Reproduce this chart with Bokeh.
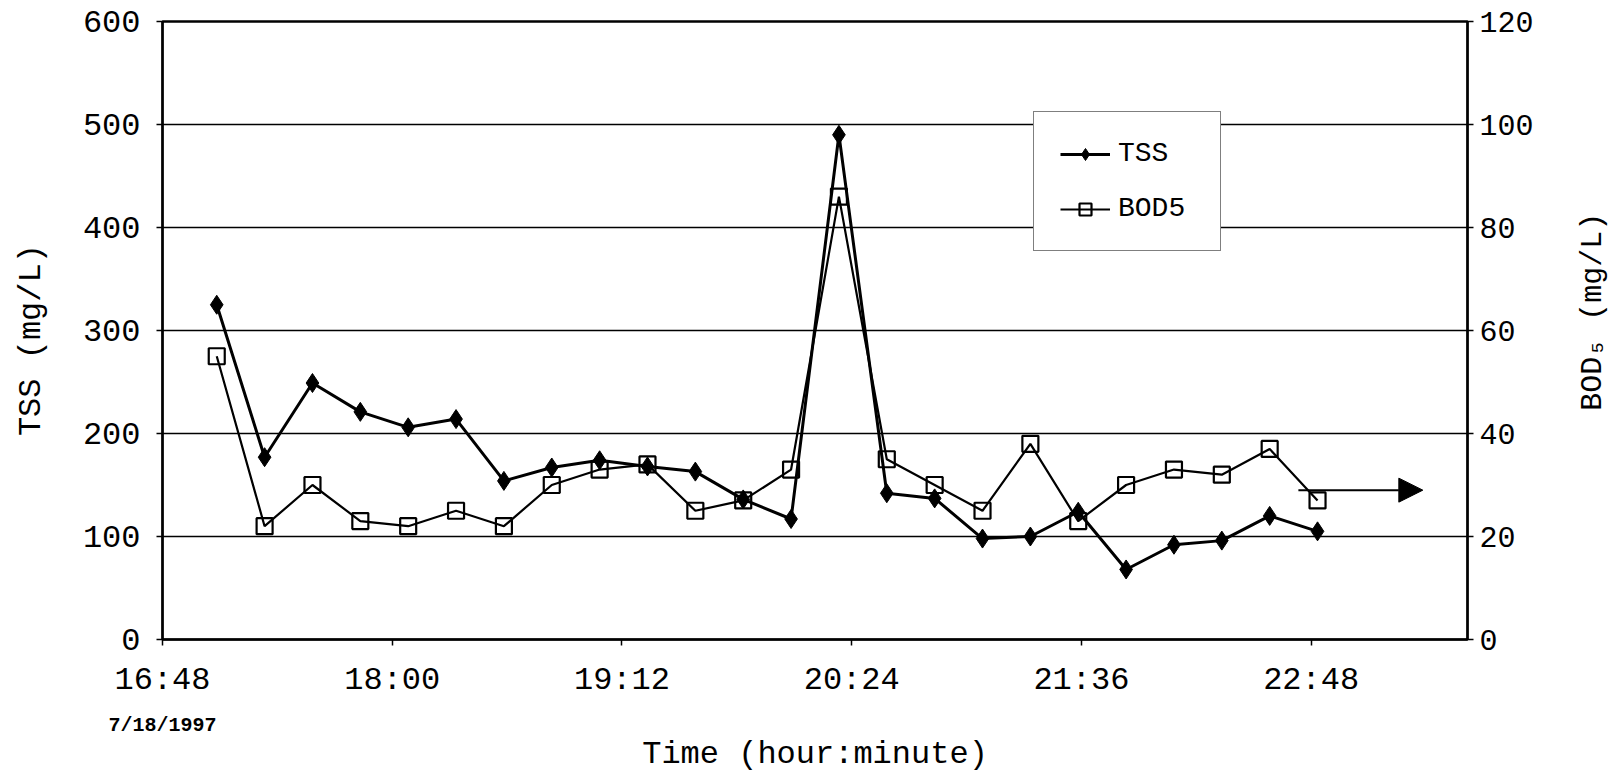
import math
from bokeh.plotting import figure
from bokeh.layouts import row
from bokeh.models import (Range1d, LinearAxis, FixedTicker, Legend, LegendItem,
                          Arrow, NormalHead)
from bokeh.core.properties import value
from bokeh.embed import file_html
from bokeh.resources import INLINE

# ---------------- data ----------------
times = ["17:05", "17:20", "17:35", "17:50", "18:05", "18:20", "18:35", "18:50",
         "19:05", "19:20", "19:35", "19:50", "20:05", "20:20", "20:35", "20:50",
         "21:05", "21:20", "21:35", "21:50", "22:05", "22:20", "22:35", "22:50"]
tss = [325, 177, 249, 221, 206, 214, 154, 167, 174, 168, 163, 136,
       117, 490, 142, 137, 98, 100, 124, 68, 92, 96, 120, 105]
bod5 = [55, 22, 30, 23, 22, 25, 22, 30, 33, 34, 25, 27,
        33, 86, 35, 30, 25, 38, 23, 30, 33, 32, 37, 27]
tick_labels = ["16:48", "18:00", "19:12", "20:24", "21:36", "22:48"]
x_start, x_end = "16:48", "23:37"
arrow_times = ["22:44", "23:23"]
arrow_bod = 29
date_text = "7/18/1997"
right_title = "BOD\u2085  (mg/L)"


def to_min(s):
    h, m = s.split(":")
    return int(h) * 60 + int(m)


x = [to_min(t) for t in times]
ticks = [to_min(t) for t in tick_labels]

FONT = "Liberation Mono"
TITLE_W = 60

p = figure(width=1613 - TITLE_W, height=775, output_backend="svg", toolbar_location=None,
           x_range=Range1d(to_min(x_start), to_min(x_end)),
           y_range=Range1d(0, 600),
           min_border_left=162, min_border_right=146 - TITLE_W,
           min_border_top=21, min_border_bottom=135,
           background_fill_color="white", border_fill_color="white")
p.extra_y_ranges = {"bod": Range1d(0, 120)}

# grid / outline
p.xgrid.grid_line_color = None
p.ygrid.grid_line_color = "black"
p.ygrid.grid_line_width = 1.4
p.ygrid.ticker = FixedTicker(ticks=[0, 100, 200, 300, 400, 500, 600])
p.outline_line_color = "black"
p.outline_line_width = 2.5

# x axis (time ticks)
xa = p.xaxis[0]
xa.ticker = FixedTicker(ticks=ticks)
xa.major_label_overrides = {t: lab for t, lab in zip(ticks, tick_labels)}

# left axis
ya = p.yaxis[0]
ya.ticker = FixedTicker(ticks=[0, 100, 200, 300, 400, 500, 600])
ya.axis_label = "TSS  (mg/L)"

# right axis
ra = LinearAxis(y_range_name="bod", ticker=FixedTicker(ticks=[0, 20, 40, 60, 80, 100, 120]))
p.add_layout(ra, "right")

for ax in (xa, ya, ra):
    ax.axis_line_color = "black"
    ax.axis_line_width = 2
    ax.major_tick_line_color = "black"
    ax.major_tick_line_width = 1.5
    ax.major_tick_in = 0
    ax.major_tick_out = 6
    ax.minor_tick_line_color = None
    ax.major_label_text_font = FONT
    ax.major_label_text_font_size = "32px"
    ax.major_label_text_color = "black"
    ax.axis_label_text_font = FONT
    ax.axis_label_text_font_size = "32px"
    ax.axis_label_text_font_style = "normal"
    ax.axis_label_text_color = "black"

xa.major_label_standoff = 16
ya.major_label_standoff = 16
ya.axis_label_standoff = 30
ra.major_label_text_font_size = "30px"
ra.major_label_standoff = 6

# second bottom axis carrying the date and the axis title
da = LinearAxis(ticker=FixedTicker(ticks=[to_min(x_start)]),
                major_label_overrides={to_min(x_start): date_text},
                axis_label="Time (hour:minute)")
da.axis_line_color = None
da.major_tick_line_color = None
da.minor_tick_line_color = None
da.major_tick_out = 0
da.major_tick_in = 0
da.major_label_standoff = 12
da.major_label_text_font = FONT
da.major_label_text_font_size = "20px"
da.major_label_text_font_style = "bold"
da.major_label_text_color = "black"
da.axis_label_standoff = -4
da.axis_label_text_font = FONT
da.axis_label_text_font_size = "32px"
da.axis_label_text_font_style = "normal"
da.axis_label_text_color = "black"
p.add_layout(da, "below")

# series
tss_line = p.line(x, tss, line_color="black", line_width=3)
tss_pts = p.scatter(x, tss, marker="diamond", size=19, fill_color="black",
                    line_color="black")
bod_line = p.line(x, bod5, line_color="black", line_width=2.2, y_range_name="bod")
bod_pts = p.scatter(x, bod5, marker="square", size=16, fill_alpha=0,
                    line_color="black", line_width=2.2, y_range_name="bod")

# arrow
p.add_layout(Arrow(x_start=to_min(arrow_times[0]), y_start=arrow_bod,
                   x_end=to_min(arrow_times[1]), y_end=arrow_bod,
                   y_range_name="bod", line_color="black", line_width=2,
                   end=NormalHead(size=24, fill_color="black", line_color="black")))

# legend
legend = Legend(items=[LegendItem(label="TSS", renderers=[tss_line, tss_pts]),
                       LegendItem(label="BOD5", renderers=[bod_line, bod_pts])],
                location=(871, 388))
legend.border_line_color = "black"
legend.border_line_width = 1.5
legend.background_fill_color = "white"
legend.background_fill_alpha = 1
legend.label_text_font = FONT
legend.label_text_font_size = "28px"
legend.label_text_color = "black"
legend.glyph_width = 50
legend.glyph_height = 30
legend.label_height = 30
legend.label_width = 76
legend.label_standoff = 8
legend.spacing = 24
legend.padding = 26
legend.margin = 0
p.add_layout(legend, "center")

# narrow strip on the right holding the right-axis title (reads bottom to top)
p2 = figure(width=TITLE_W, height=775, output_backend="svg", toolbar_location=None,
            x_range=Range1d(0, 1), y_range=Range1d(0, 1),
            x_axis_location=None, y_axis_location=None, min_border=0,
            outline_line_color=None, background_fill_color="white",
            border_fill_color="white")
p2.grid.visible = False
p2.text(x=[0.65], y=[0.545], text=[right_title], angle=math.pi / 2,
        text_align="center", text_baseline="middle", text_color="black",
        text_font=value(FONT), text_font_size="30px")

layout = row(p, p2, spacing=0)
open("out.html", "w").write(file_html(layout, INLINE))
